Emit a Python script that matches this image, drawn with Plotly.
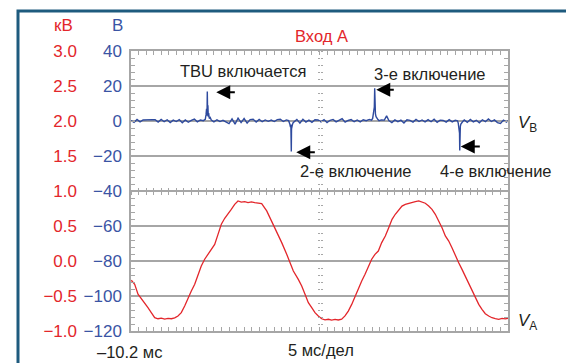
import plotly.graph_objects as go

# ---------------- data ----------------
# red trace V_A (time in ms, volts on the V scale)
va_t = [-10.16, -9.71, -9.27, -8.83, -8.38, -7.95, -7.51, -7.06, -6.62, -6.18,
        -5.73, -5.29, -4.85, -4.40, -3.97, -3.53, -3.08, -2.64, -2.20, -1.75,
        -1.31, -0.88, -0.43, 0.01, 0.45, 0.90, 1.34, 1.78, 2.23, 2.67,
        3.10, 3.55, 3.99, 4.43, 4.88, 5.32, 5.76, 6.21,
        7.13, 7.80, 8.46, 8.90, 9.34, 9.79, 10.45, 10.89, 11.33, 11.99,
        12.44, 12.88, 13.32, 13.77, 14.20, 14.64, 15.09, 15.53, 15.97, 16.42,
        16.86, 17.29, 17.74, 18.18, 18.62, 19.07, 19.51, 19.95, 20.40, 20.84,
        21.27, 21.72, 22.16, 22.60, 23.05,
        23.53, 23.98, 24.42, 24.85, 25.30, 25.74, 26.18, 26.63, 27.07, 27.51,
        27.96, 28.40, 28.83, 29.28, 29.72, 30.16, 30.61, 31.05, 31.49, 31.94,
        32.37, 32.81, 33.26, 33.70, 34.13, 34.59, 35.03, 35.47, 35.92, 36.35,
        36.79, 37.24, 37.68, 38.12, 38.57, 39.01, 39.44, 39.80]
va_v = [-91.0, -93.3, -99.0, -101.5, -103.8, -106.7, -109.5, -112.4, -113.0, -112.6,
        -113.2, -112.8, -113.0, -112.5, -111.4, -109.5, -105.7, -101.0, -97.1, -93.3,
        -87.6, -82.9, -79.0, -76.2, -73.3, -70.5, -64.8, -59.0, -55.6, -53.3,
        -50.5, -47.6, -45.7, -46.4, -46.1, -46.6, -46.2, -46.7,
        -47.2, -51.4, -57.1, -61.0, -64.8, -69.5, -76.2, -81.0, -85.7, -90.5,
        -94.3, -99.0, -103.8, -106.7, -109.5, -111.4, -113.0, -113.6, -113.3, -113.8,
        -113.4, -113.7, -113.2, -111.4, -108.6, -104.8, -100.0, -95.2, -91.4, -87.6,
        -82.9, -79.0, -76.2, -74.3, -69.5,
        -65.7, -61.0, -56.2, -53.3, -51.0, -48.6, -47.6, -47.0, -46.7, -46.1,
        -45.7, -46.3, -47.0, -48.6, -50.5, -53.3, -57.1, -61.0, -65.7, -68.6,
        -72.4, -77.1, -81.0, -84.8, -88.6, -92.4, -97.1, -101.0, -104.8, -107.6,
        -110.1, -111.4, -112.4, -112.9, -113.3, -112.8, -113.1, -112.7]

# blue trace V_B
vb_t = [-10.2, -9.8, -9.4, -9.0, -8.6, -8.2, -7.8, -7.4, -7.0, -6.6, -6.2, -5.8, -5.4,
        -5.0, -4.6, -4.2, -3.8, -3.4, -3.0, -2.6, -2.2, -1.8, -1.4, -1.0, -0.6,
        -0.35, -0.25, -0.18, -0.12, -0.08, -0.04, 0.0, 0.05, 0.1, 0.18, 0.3, 0.45,
        0.8, 1.2, 1.6, 2.0, 2.4, 2.8, 3.2, 3.6, 4.0, 4.4, 4.8, 5.2, 5.6, 6.0, 6.4,
        6.8, 7.2, 7.6, 8.0, 8.4, 8.8, 9.2, 9.6, 10.0, 10.4, 10.7,
        10.85, 10.95, 11.0, 11.03, 11.06, 11.09, 11.13, 11.2, 11.3, 11.45,
        11.8, 12.2, 12.6, 13.0, 13.4, 13.8, 14.2, 14.6, 15.0, 15.4, 15.8, 16.2, 16.6,
        17.0, 17.4, 17.8, 18.2, 18.6, 19.0, 19.4, 19.8, 20.2, 20.6, 21.0, 21.4, 21.7,
        21.85, 21.95, 22.02, 22.07, 22.12, 22.17, 22.22, 22.3, 22.4, 22.55, 22.7,
        23.0, 23.4, 23.7, 24.0,
        24.4, 24.8, 25.2, 25.6, 26.0, 26.4, 26.8, 27.2, 27.6, 28.0, 28.4, 28.8, 29.2,
        29.6, 30.0, 30.4, 30.8, 31.2, 31.6, 32.0, 32.4, 32.8, 33.1,
        33.2, 33.28, 33.34, 33.37, 33.40, 33.43, 33.48, 33.55, 33.65, 33.8,
        34.0, 34.4, 34.8, 35.2, 35.6, 36.0, 36.4, 36.8, 37.2, 37.6, 38.0, 38.4, 38.8,
        39.2, 39.6, 39.8]
vb_v = [0.3, -0.8, 0.9, -0.5, 0.6, 0.8, 0.8, 0.8, 0.7, -0.6, 0.9, -0.4, 0.7,
        -0.9, 0.5, -0.3, 0.8, -1.0, 0.6, -0.7, 0.4, 1.1, -0.5, 0.6, 0.2,
        1.0, 3.5, 7.0, 3.0, 16.8, 5.0, 9.0, 2.5, 4.5, 1.5, 2.0, 0.5,
        -0.5, 0.7, -0.3, 0.4, -0.8, -1.5, 1.2, -1.8, 1.6, -0.9, 1.4, -1.2, 0.8, 1.0, -0.6,
        0.9, -0.4, 0.6, -0.2, 0.5, -0.3, 0.8, 1.0, -0.3, 0.6, 0.2,
        -1.5, -3.5, -2.0, -6.0, -17.4, -4.5, -3.0, -2.2, -1.0, -0.3,
        0.9, -1.2, 1.0, -0.6, 0.5, -0.8, 0.7, 0.6, -0.5, 0.8, -0.9, 0.4, 0.9,
        -0.5, 0.6, 1.3, -0.7, 0.3, 0.8, -0.4, 0.6, -0.5, 0.7, 0.2, 0.9, 0.5,
        1.5, 4.0, 6.0, 8.0, 18.7, 5.5, 4.0, 2.5, 1.5, 0.8, 0.2,
        0.6, 0.5, 2.9, 0.3,
        -0.9, 0.6, -0.4, 0.5, -1.1, 0.7, 0.4, -0.6, 0.9, -0.3, 0.6, -0.5, 0.8,
        -0.4, 1.0, -0.7, 0.5, 0.3, -0.6, 0.8, -0.5, 0.4, 0.1,
        -1.2, -3.0, -4.5, -7.0, -16.9, -5.0, -3.0, -1.8, -0.8, -0.3,
        0.6, -0.8, 0.9, -0.5, 0.4, -1.0, 0.7, -0.4, 1.2, -0.3, 0.6, -0.9, -1.4,
        0.5, -0.6, 0.2]

# tick labels
v_ticks = [-120, -100, -80, -60, -40, -20, 0, 20, 40]
v_labels = ["\u2212120", "\u2212100", "\u221280", "\u221260", "\u221240", "\u221220", "0", "20", "40"]
kv_ticks = [-1.0, -0.5, 0.0, 0.5, 1.0, 1.5, 2.0, 2.5, 3.0]
kv_labels = ["\u22121.0", "\u22120.5", "0.0", "0.5", "1.0", "1.5", "2.0", "2.5", "3.0"]

# event annotations: label text, label position (ms, V)
event_text = ["TBU включается", "2-е включение", "3-е включение", "4-е включение"]
event_tx = [4.71, 19.64, 29.46, 38.21]
event_ty = [28.3, -28.7, 26.8, -28.7]
# arrows: head (ms, V) and tail ms
arrow_hx = [1.11, 11.72, 22.33, 33.53]
arrow_hy = [16.4, -17.8, 17.8, -14.6]
arrow_tx = [3.77, 14.38, 24.85, 36.26]

# ---------------- style ----------------
OFF = 8                      # browser body margin
W, H = 574 - OFF, 363 - OFF
ML, MT = 131 - OFF, 51 - OFF
MR, MB = W - (508 - OFF), H - (331 - OFF)
FONT = "Liberation Sans, Arial, sans-serif"
RED = "#e3262b"
BLUE = "#3a54a4"
TRACE_BLUE = "#2e4a9e"
BLACK = "#231f20"
GRID = "#a6a6a6"
FRAME = "#1e5b7e"
FS = 16.5
TFS = 17

PW, PH = W - ML - MR, H - MT - MB


def pxx(x):
    return (x - OFF - ML) / PW


def pyy(y):
    return (H - MB - (y - OFF)) / PH


fig = go.Figure()
fig.add_trace(go.Scatter(x=va_t, y=va_v, mode="lines",
                         line=dict(color=RED, width=1.3), hoverinfo="skip"))
fig.add_trace(go.Scatter(x=vb_t, y=vb_v, mode="lines",
                         line=dict(color=TRACE_BLUE, width=1.4), hoverinfo="skip"))
# empty traces so that the helper axes are drawn
for xa, ya in [("x2", "y2"), ("x3", "y3"), ("x", "y4")]:
    fig.add_trace(go.Scatter(x=[None], y=[None], xaxis=xa, yaxis=ya,
                             mode="lines", hoverinfo="skip", showlegend=False))

xr = [-10.2, 39.8]
yr = [-120, 40]

annos = []
for txt, x, y in zip(event_text, event_tx, event_ty):
    annos.append(dict(text=txt, x=x, y=y, xref="x", yref="y", showarrow=False,
                      font=dict(size=FS, color=BLACK, family=FONT)))
for hx, hy, tx in zip(arrow_hx, arrow_hy, arrow_tx):
    annos.append(dict(text="", x=hx, y=hy, ax=tx, ay=hy, xref="x", yref="y",
                      axref="x", ayref="y", showarrow=True, arrowhead=2,
                      arrowsize=1.4, arrowwidth=2, arrowcolor="black"))


def pa(text, x, y, color=BLACK, xanchor="center", size=FS):
    annos.append(dict(text=text, x=pxx(x), y=pyy(y), xref="paper", yref="paper",
                      showarrow=False, xanchor=xanchor, yanchor="middle",
                      font=dict(size=size, color=color, family=FONT)))


pa("Вход А", 321, 36, RED)
pa("кВ", 63, 25, RED, size=TFS)
pa("В", 117, 25, BLUE, size=TFS)
pa("\u201310.2 мс", 129, 351.5)
pa("5 мс/дел", 321, 350)
pa("<i>V</i><sub>B</sub>", 516, 124, xanchor="left", size=17)
pa("<i>V</i><sub>A</sub>", 516, 322, xanchor="left", size=17)

shapes = [dict(type="rect", xref="paper", yref="paper",
               x0=pxx(18), x1=pxx(569), y0=pyy(375), y1=pyy(11),
               line=dict(color=FRAME, width=3), fillcolor="rgba(0,0,0,0)", layer="below")]

common_x = dict(range=xr, showgrid=False, zeroline=False, showticklabels=False,
                tick0=-10.2, dtick=1, tickcolor=GRID, tickwidth=1, automargin=False)
common_y = dict(range=yr, overlaying="y", anchor="free", position=0.5,
                tick0=-120, dtick=4, ticks="outside", ticklen=2, tickcolor=GRID,
                showticklabels=False, showgrid=False, zeroline=False, showline=False,
                automargin=False)

fig.update_layout(
    width=W, height=H,
    margin=dict(l=ML, r=MR, t=MT, b=MB, pad=0),
    paper_bgcolor="white", plot_bgcolor="white",
    showlegend=False,
    font=dict(family=FONT, size=FS, color=BLACK),
    xaxis=dict(**common_x, showline=True, linecolor=GRID, linewidth=1.5,
               mirror="ticks", ticks="inside", ticklen=4),
    xaxis2=dict(**common_x, overlaying="x", anchor="free", position=0.5,
                ticks="outside", ticklen=3, showline=False),
    xaxis3=dict(**common_x, overlaying="x", anchor="free", position=0.5,
                ticks="inside", ticklen=3, showline=False),
    yaxis=dict(range=yr, tickmode="array", tickvals=v_ticks, ticktext=v_labels,
               tickfont=dict(color=BLUE, size=TFS, family=FONT),
               showline=True, linecolor=GRID, linewidth=1.5, mirror="ticks",
               ticks="inside", ticklen=4, tickcolor=GRID,
               minor=dict(ticks="inside", dtick=4, tick0=-120, ticklen=4, tickcolor=GRID),
               showgrid=True, gridcolor=GRID, gridwidth=1.5, zeroline=False,
               ticklabelstandoff=4, automargin=False),
    yaxis2=dict(**common_y, side="left"),
    yaxis3=dict(**common_y, side="right"),
    yaxis4=dict(range=[-1, 3], overlaying="y", anchor="free", position=0, side="left",
                tickmode="array", tickvals=kv_ticks, ticktext=kv_labels,
                tickfont=dict(color=RED, size=TFS, family=FONT),
                ticks="", showgrid=False, zeroline=False, showline=False,
                ticklabelstandoff=54, automargin=False),
    annotations=annos,
    shapes=shapes,
)

fig.write_html("out.html")
